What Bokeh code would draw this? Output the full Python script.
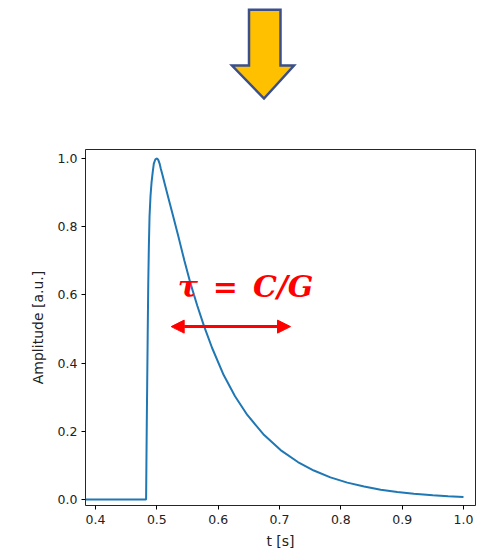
from bokeh.plotting import figure
from bokeh.layouts import column
from bokeh.models import Range1d, FixedTicker, PrintfTickFormatter, Label, Arrow, NormalHead
from bokeh.embed import file_html
from bokeh.resources import INLINE

# ---- data ----
t_s = [0.370, 0.4825, 0.4830, 0.4836, 0.4843, 0.4851, 0.4860, 0.4870, 0.4881, 0.4897,
       0.4914, 0.4933, 0.4951, 0.4975, 0.5006, 0.5025, 0.5045, 0.5065, 0.5087, 0.5140,
       0.5196, 0.5277, 0.5360, 0.5450, 0.5550, 0.5660, 0.5767, 0.5900, 0.6090, 0.6275,
       0.6475, 0.6750, 0.7018, 0.7300, 0.7560, 0.7830, 0.8106, 0.8380, 0.8650, 0.8920,
       0.9190, 0.9500, 0.9750, 1.0000]
amplitude = [0.0, 0.0, 0.10, 0.22, 0.34, 0.48, 0.63, 0.74, 0.83, 0.89,
             0.93, 0.96, 0.985, 0.997, 1.0, 0.995, 0.985, 0.970, 0.955, 0.918,
             0.879, 0.823, 0.765, 0.700, 0.633, 0.568, 0.510, 0.445, 0.365, 0.303,
             0.248, 0.189, 0.145, 0.110, 0.085, 0.065, 0.0495, 0.038, 0.0287, 0.022,
             0.0167, 0.0122, 0.0096, 0.0076]

x_ticks = [0.4, 0.5, 0.6, 0.7, 0.8, 0.9, 1.0]
y_ticks = [0.0, 0.2, 0.4, 0.6, 0.8, 1.0]
x_label = "t [s]"
y_label = "Amplitude [a.u.]"
annotation_text = "\u03c4\u2002=\u2002C/G"
tau_start = 0.5234
tau_end = 0.718
tau_level = 0.507

# block arrow outline (top decoration), in the top panel's pixel units
arrow_x = [248.5, 280.0, 280.0, 293.5, 263.5, 231.5, 248.5]
arrow_y = [9.2, 9.2, 65.0, 65.0, 98.0, 65.0, 65.0]

W = 477
TOP_H = 136
MAIN_H = 415
FRAME_LEFT = 85
FRAME_RIGHT = 475

# ---- top panel with the block arrow (its frame is aligned with the chart frame) ----
top = figure(width=W, height=TOP_H, output_backend="svg", toolbar_location=None,
             x_range=Range1d(FRAME_LEFT, FRAME_RIGHT), y_range=Range1d(TOP_H, 0),
             min_border=0, outline_line_color=None)
top.axis.visible = False
top.grid.visible = False
top.patch(arrow_x, arrow_y, fill_color="#FFC000", line_color="#3A4F8C",
          line_width=2.5, line_join="miter")

# ---- main chart ----
p = figure(width=W, height=MAIN_H, output_backend="svg", toolbar_location=None,
           x_range=Range1d(0.3837, 1.0196), y_range=Range1d(-0.0175, 1.0263),
           min_border_left=FRAME_LEFT, min_border_right=W - FRAME_RIGHT,
           min_border_top=13, min_border_bottom=0)
p.grid.visible = False
p.outline_line_color = "black"
p.outline_line_width = 1
p.outline_line_alpha = 0.85

p.line(t_s, amplitude, line_color="#1f77b4", line_width=2)

for ax in (p.xaxis[0], p.yaxis[0]):
    ax.axis_line_color = None
    ax.major_tick_in = 0
    ax.major_tick_out = 4
    ax.minor_tick_line_color = None
    ax.major_tick_line_color = "black"
    ax.major_label_text_font = "DejaVu Sans"
    ax.major_label_text_font_size = "12.5px"
    ax.major_label_text_color = "#222222"
    ax.axis_label_text_font = "DejaVu Sans"
    ax.axis_label_text_font_size = "14px"
    ax.axis_label_text_font_style = "normal"
    ax.axis_label_text_color = "#222222"

p.xaxis.ticker = FixedTicker(ticks=x_ticks)
p.yaxis.ticker = FixedTicker(ticks=y_ticks)
p.xaxis.formatter = PrintfTickFormatter(format="%.1f")
p.yaxis.formatter = PrintfTickFormatter(format="%.1f")
p.xaxis.axis_label = x_label
p.yaxis.axis_label = y_label
p.xaxis.major_label_standoff = 5
p.xaxis.axis_label_standoff = 6
p.yaxis.major_label_standoff = 4
p.yaxis.axis_label_standoff = 9

p.add_layout(Label(x=0.6447, y=0.626, text=annotation_text, text_align="center",
                   text_baseline="middle", text_color="red", text_font="DejaVu Serif",
                   text_font_style="bold italic", text_font_size="30px"))

p.add_layout(Arrow(x_start=tau_start, y_start=tau_level, x_end=tau_end, y_end=tau_level,
                   line_color="red", line_width=3,
                   start=NormalHead(size=13, fill_color="red", line_color="red", line_width=1),
                   end=NormalHead(size=13, fill_color="red", line_color="red", line_width=1)))

layout = column(top, p, spacing=0)
open("out.html", "w").write(file_html(layout, INLINE))
